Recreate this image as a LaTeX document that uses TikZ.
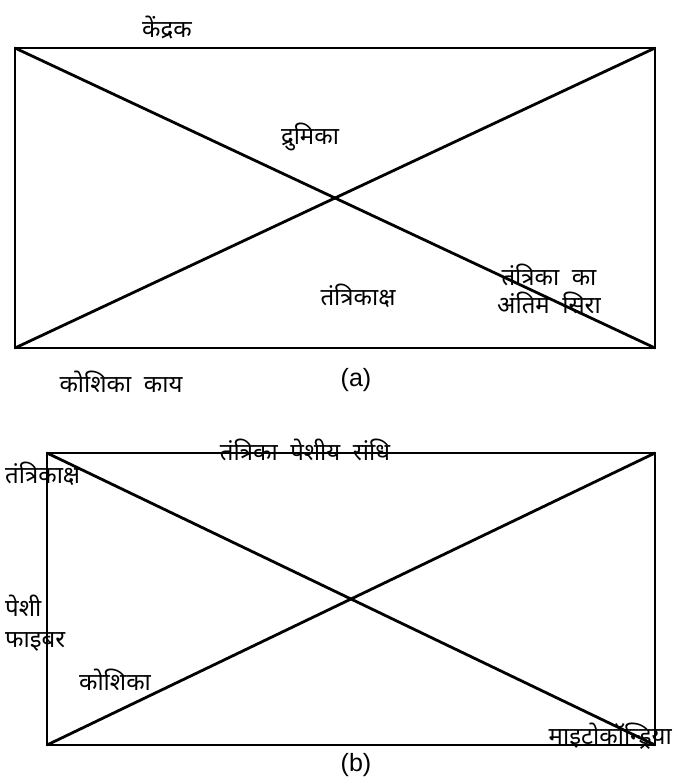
\documentclass[tikz,border=0pt]{standalone}
\usepackage{fontspec}
\newfontfamily\deva[Script=Devanagari]{Noto Sans}
\setmainfont{Liberation Sans}
\begin{document}
\begin{tikzpicture}[x=1pt,y=-1pt,
  frame/.style={line width=2.8pt,line join=miter},
  lab/.style={inner sep=0pt,font=\deva\fontsize{24}{28}\selectfont},
  figcap/.style={inner sep=0pt,font=\fontsize{25}{28}\selectfont}]
\useasboundingbox (0,0) rectangle (673,784);
% (a)
\coordinate (a1) at (15,48);
\coordinate (a2) at (655,48);
\coordinate (a3) at (655,348);
\coordinate (a4) at (15,348);
\draw[frame] (a1) -- (a2) -- (a3) -- (a4) -- cycle;
\draw[frame] (a1) -- (a3);
\draw[frame] (a4) -- (a2);
\node[lab] (kendrak) at (167,28) {केंद्रक};
\node[lab] (drumika) at (310,137) {द्रुमिका};
\node[lab] (axon) at (358,296) {तंत्रिकाक्ष};
\node[lab,align=center] (ending) at (549,289) {तंत्रिका\ \ का\\[0pt]अंतिम\ \ सिरा};
\node[lab] (body) at (121,382) {कोशिका\ \ काय};
\node[figcap] (capa) at (356,380) {(a)};
% (b)
\coordinate (b1) at (47,453);
\coordinate (b2) at (655,453);
\coordinate (b3) at (655,745);
\coordinate (b4) at (47,745);
\draw[frame] (b1) -- (b2) -- (b3) -- (b4) -- cycle;
\draw[frame] (b1) -- (b3);
\draw[frame] (b4) -- (b2);
\node[lab] (nmj) at (305,450) {तंत्रिका\ \ पेशीय\ \ संधि};
\node[lab,anchor=west] (axonb) at (5,474) {तंत्रिकाक्ष};
\node[lab,anchor=west] (peshi) at (5,606) {पेशी};
\node[lab,anchor=west] (fibre) at (5,642) {फाइबर};
\node[lab] (cell) at (115,680) {कोशिका};
\node[lab,anchor=east] (mito) at (672,736) {माइटोकॉन्ड्रिया};
\node[figcap] (capb) at (356,765) {(b)};
\end{tikzpicture}
\end{document}
